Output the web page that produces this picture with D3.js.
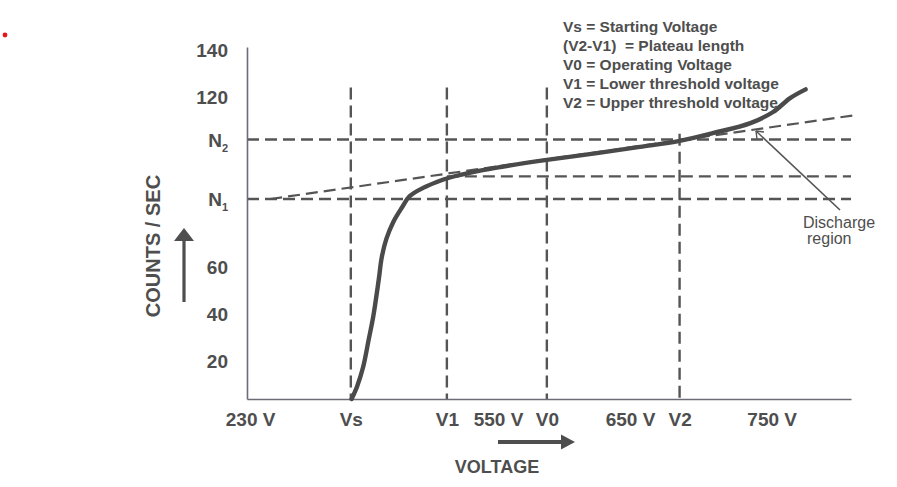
<!DOCTYPE html>
<html><head><meta charset="utf-8">
<script src="https://cdn.jsdelivr.net/npm/d3@7"></script>
<style>
body{margin:0;background:#fff}
svg{display:block}
text{font-family:"Liberation Sans",Arial,sans-serif;fill:#4e4e4e}
</style>
</head><body>
<svg id="c" width="897" height="487"></svg>
<script>
// ---- data ----
const voltage = [361, 368, 376, 383, 389, 396, 400, 406, 415, 426, 436, 454, 471, 487, 527, 552, 587, 625, 657, 685, 709, 735, 751, 763, 774];
const counts  = [0, 6.5, 17, 29, 39, 54.5, 63.5, 70, 76, 81, 85, 88, 90, 91.5, 94, 95.3, 97.8, 100.2, 102.4, 104.5, 107.3, 110.8, 114.7, 119.6, 123.2];

const xTickValues = [230, 360, 484, 550, 587, 650, 685, 750];
const xTickLabels = ["230 V", "Vs", "V1", "550 V", "V0", "650 V", "V2", "750 V"];
const yTickValues = [20, 40, 60, 84, 105, 120, 140];
const yTickLabels = ["20", "40", "60", "N|1", "N|2", "120", "140"];

const markerNames    = ["Vs", "V1", "V0", "V2"];
const markerVoltages = [360, 484, 587, 685];
const markerTops     = [124, 124, 124, 107];

const levelNames  = ["N1", "N2", "plateau"];
const levelCounts = [84, 105, 92];
const levelStartV = [226, 226, 484];
const levelEndV   = [806, 806, 806];

const tangentVoltage = [256, 809];
const tangentCounts  = [84, 113.6];

const legendLines = [
  "Vs = Starting Voltage",
  "(V2-V1)  = Plateau length",
  "V0 = Operating Voltage",
  "V1 = Lower threshold voltage",
  "V2 = Upper threshold voltage"
];
const dischargeLabel = ["Discharge", "region"];

// ---- scales (schematic, piecewise-linear axes as in the drawing) ----
const svg = d3.select("#c");
const x = d3.scaleLinear().domain([226, 550, 650, 806]).range([247, 498, 630, 851]);
const y = d3.scaleLinear().domain([0, 20, 60, 120, 141]).range([399, 361, 267, 97, 47]);

const ink = "#4e4e4e";
const dash = "12,6";

// red dot artifact
svg.append("circle").attr("cx", 5).attr("cy", 35).attr("r", 2.4).attr("fill", "#e8141b");

// horizontal dashed levels
svg.append("g").selectAll("line").data(levelCounts).join("line")
  .attr("x1", (d, i) => x(levelStartV[i])).attr("x2", (d, i) => x(levelEndV[i]))
  .attr("y1", d => y(d)).attr("y2", d => y(d))
  .attr("stroke", "#555").attr("stroke-width", 2.4).attr("stroke-dasharray", dash);

// vertical dashed markers
svg.append("g").selectAll("line").data(markerVoltages).join("line")
  .attr("x1", d => x(d)).attr("x2", d => x(d))
  .attr("y1", (d, i) => y(markerTops[i])).attr("y2", y(0))
  .attr("stroke", "#555").attr("stroke-width", 2.4).attr("stroke-dasharray", dash);

// sloped tangent line
const tangentPts = tangentVoltage.map((v, i) => [v, tangentCounts[i]]);
svg.append("path").datum(tangentPts)
  .attr("d", d3.line().x(d => x(d[0])).y(d => y(d[1])))
  .attr("fill", "none").attr("stroke", "#555").attr("stroke-width", 2.2).attr("stroke-dasharray", dash);

// axes
const yAxis = svg.append("g").attr("transform", `translate(${x(226)},0)`)
  .call(d3.axisLeft(y).tickValues(yTickValues).tickSize(0).tickSizeOuter(0).tickPadding(19).tickFormat(() => ""));
const xAxis = svg.append("g").attr("transform", `translate(0,${y(0)})`)
  .call(d3.axisBottom(x).tickValues(xTickValues).tickSize(0).tickSizeOuter(0).tickPadding(14)
    .tickFormat((d, i) => xTickLabels[i]));
[yAxis, xAxis].forEach(a => {
  a.select(".domain").attr("stroke", "#6c6c76").attr("stroke-width", 1.6);
  a.selectAll(".tick text").attr("font-size", 19).attr("font-weight", "bold")
    .attr("font-family", "Liberation Sans, Arial, sans-serif").attr("fill", ink);
});
yAxis.selectAll(".tick text").each(function (d, i) {
  const t = d3.select(this);
  const parts = yTickLabels[i].split("|");
  t.attr("dy", "0.36em").text(null);
  t.append("tspan").text(parts[0]);
  if (parts[1]) t.append("tspan").attr("font-size", 11).attr("dy", "0.45em").text(parts[1]);
});

// characteristic curve
const pts = voltage.map((v, i) => [v, counts[i]]);
svg.append("path").datum(pts)
  .attr("d", d3.line().x(d => x(d[0])).y(d => y(d[1])).curve(d3.curveCatmullRom.alpha(0.5)))
  .attr("fill", "none").attr("stroke", "#4a4a4a").attr("stroke-width", 4.4)
  .attr("stroke-linecap", "round").attr("stroke-linejoin", "round");

// axis titles and arrows
svg.append("text").attr("transform", "translate(153,246) rotate(-90)")
  .attr("text-anchor", "middle").attr("dy", "0.36em")
  .attr("font-size", 20).attr("font-weight", "bold").text("COUNTS / SEC");
svg.append("line").attr("x1", 184).attr("x2", 184).attr("y1", 302).attr("y2", 238)
  .attr("stroke", ink).attr("stroke-width", 3.2);
svg.append("path").attr("d", "M174,241 L194,241 L184,228 Z").attr("fill", ink);

svg.append("text").attr("x", 497).attr("y", 473).attr("text-anchor", "middle")
  .attr("font-size", 18).attr("font-weight", "bold").text("VOLTAGE");
svg.append("line").attr("x1", 498).attr("x2", 563).attr("y1", 442).attr("y2", 442)
  .attr("stroke", ink).attr("stroke-width", 4);
svg.append("path").attr("d", "M561,434.5 L561,449.5 L575,442 Z").attr("fill", ink);

// legend
svg.append("g").selectAll("text").data(legendLines).join("text")
  .attr("x", 563).attr("y", (d, i) => 32 + i * 19)
  .attr("font-size", 15.5).attr("font-weight", "bold")
  .style("white-space", "pre").text(d => d);

// discharge annotation
svg.append("line").attr("x1", 756).attr("y1", 131).attr("x2", 840).attr("y2", 210)
  .attr("stroke", "#555").attr("stroke-width", 1.6);
svg.append("path").attr("d", "M756,131 L757,139 M756,131 L764,132")
  .attr("stroke", "#555").attr("stroke-width", 1.4).attr("fill", "none");
svg.append("text").attr("x", 803).attr("y", 228).attr("font-size", 16).text(dischargeLabel[0]);
svg.append("text").attr("x", 807).attr("y", 244).attr("font-size", 16).text(dischargeLabel[1]);
</script>
</body></html>
